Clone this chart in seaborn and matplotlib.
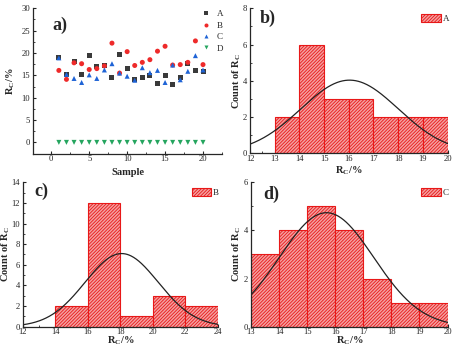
import numpy as np
import pandas as pd
import matplotlib
matplotlib.use("Agg")
import matplotlib.pyplot as plt
import seaborn as sns
from matplotlib.ticker import MultipleLocator, AutoMinorLocator
from matplotlib.patches import Patch

# --- data ---
sample = list(range(1, 21))
rc_a = [18.9, 15.2, 18.2, 15.2, 19.4, 16.9, 17.2, 14.5, 19.7, 16.6,
        14.1, 14.6, 14.9, 13.2, 14.9, 13.0, 14.5, 17.6, 16.1, 15.9]
rc_b = [16.1, 14.1, 17.8, 17.6, 16.3, 16.5, 17.1, 22.2, 15.5, 20.3,
        17.2, 17.9, 18.5, 20.4, 21.5, 17.3, 17.4, 17.9, 22.7, 17.4]
rc_c = [18.9, 15.2, 14.3, 13.4, 15.1, 14.3, 16.2, 17.6, 15.5, 14.8,
        13.9, 16.7, 15.6, 16.1, 13.4, 17.3, 14.0, 15.9, 19.4, 16.2]
rc_d = [0.0] * 20

bins_a = np.arange(13, 21, 1)
bins_b = np.arange(14, 25, 2)
bins_c = np.arange(13, 21, 1)

sns.set_style("ticks")
plt.rcParams["font.family"] = ["Liberation Serif", "DejaVu Serif"]
plt.rcParams["mathtext.fontset"] = "custom"
plt.rcParams["mathtext.rm"] = "Liberation Serif"
plt.rcParams["mathtext.bf"] = "Liberation Serif:bold"
plt.rcParams["hatch.linewidth"] = 0.6
plt.rcParams["xtick.direction"] = "in"
plt.rcParams["ytick.direction"] = "in"

fig = plt.figure(figsize=(4.53, 3.52), dpi=100)
ax_a = fig.add_axes([0.073, 0.5625, 0.417, 0.414])
ax_b = fig.add_axes([0.552, 0.5645, 0.436, 0.412])
ax_c = fig.add_axes([0.050, 0.072, 0.431, 0.410])
ax_d = fig.add_axes([0.554, 0.072, 0.434, 0.410])

tick_fs = 6.2
label_fs = 7.5
rc_label = r"R$_\mathbf{C}$/%"
count_label = r"Count of R$_\mathbf{C}$"
hatch = "//////////"
bar_face = "#f4a0a0"
bar_edge = "#e81818"


def style_axes(ax, xlab, ylab, xl_pos, yl_pos):
    sns.despine(ax=ax)
    ax.tick_params(labelsize=tick_fs, length=2.5, width=0.8, pad=1.0)
    ax.tick_params(axis="y", pad=2.0)
    ax.tick_params(which="minor", length=1.5, width=0.6)
    for s in ["left", "bottom"]:
        ax.spines[s].set_linewidth(0.9)
    ax.set_xlabel(xlab, fontsize=label_fs, fontweight="bold", va="center")
    ax.set_ylabel(ylab, fontsize=label_fs, fontweight="bold", va="center")
    ax.xaxis.set_label_coords(0.5, xl_pos)
    ax.yaxis.set_label_coords(yl_pos, 0.5)


# --- a) scatter of R_C per sample ---
df = pd.DataFrame({
    "Sample": sample * 4,
    "Rc": rc_a + rc_b + rc_c + rc_d,
    "group": ["A"] * 20 + ["B"] * 20 + ["C"] * 20 + ["D"] * 20,
})
palette = {"A": "#3a3a3a", "B": "#ee2a2a", "C": "#1e63d6", "D": "#25a55f"}
markers = {"A": "s", "B": "o", "C": "^", "D": "v"}
sns.scatterplot(data=df, x="Sample", y="Rc", hue="group", style="group",
                palette=palette, markers=markers, s=13, linewidth=0,
                ax=ax_a)
ax_a.set_xlim(-2.4, 22.5)
ax_a.set_ylim(-2.6, 30)
ax_a.xaxis.set_major_locator(MultipleLocator(5))
ax_a.yaxis.set_major_locator(MultipleLocator(5))
ax_a.xaxis.set_minor_locator(AutoMinorLocator(2))
ax_a.yaxis.set_minor_locator(AutoMinorLocator(2))
style_axes(ax_a, "Sample", rc_label, -0.125, -0.118)
ax_a.legend(loc="upper right", frameon=False, fontsize=6.5, markerscale=0.8,
            handletextpad=0.2, labelspacing=0.35, borderaxespad=0.1,
            bbox_to_anchor=(1.03, 1.02), title=None)
ax_a.text(0.10, 0.88, "a)", transform=ax_a.transAxes, fontsize=13,
          fontweight="bold", va="center")


# --- b), c), d) histograms with normal curves ---
def hist_panel(ax, values, bins, label, xlim, ylim, xstep, ystep, tag,
               tagpos, xl_pos, yl_pos):
    sns.histplot(x=values, bins=bins, stat="count", ax=ax, color="red",
                 edgecolor=bar_edge, linewidth=0.8, hatch=hatch)
    for p in ax.patches:
        p.set_facecolor(bar_face)
        p.set_edgecolor(bar_edge)
    v = np.asarray(values)
    mu, sd = v.mean(), v.std(ddof=1)
    width = bins[1] - bins[0]
    xs = np.linspace(xlim[0], xlim[1], 300)
    ys = len(v) * width / (sd * np.sqrt(2 * np.pi)) * np.exp(-0.5 * ((xs - mu) / sd) ** 2)
    sns.lineplot(x=xs, y=ys, ax=ax, color="#222222", linewidth=0.9)
    ax.set_xlim(*xlim)
    ax.set_ylim(*ylim)
    ax.xaxis.set_major_locator(MultipleLocator(xstep))
    ax.yaxis.set_major_locator(MultipleLocator(ystep))
    ax.xaxis.set_minor_locator(AutoMinorLocator(2))
    ax.yaxis.set_minor_locator(AutoMinorLocator(2))
    style_axes(ax, rc_label, count_label, xl_pos, yl_pos)
    handle = Patch(facecolor=bar_face, edgecolor=bar_edge, hatch=hatch,
                   linewidth=0.8)
    ax.legend([handle], [label], loc="upper right", frameon=False,
              fontsize=6.5, handlelength=2.2, handleheight=0.9,
              handletextpad=0.2, borderaxespad=0.1,
              bbox_to_anchor=(1.03, 0.99))
    ax.text(tagpos[0], tagpos[1], tag, transform=ax.transAxes, fontsize=13,
            fontweight="bold", va="center")


hist_panel(ax_b, rc_a, bins_a, "A", (12, 20), (0, 8), 1, 2, "b)",
           (0.05, 0.93), -0.12, -0.07)
hist_panel(ax_c, rc_b, bins_b, "B", (12, 24), (0, 14), 2, 2, "c)",
           (0.06, 0.94), -0.1, -0.085)
hist_panel(ax_d, rc_c, bins_c, "C", (13, 20), (0, 6), 1, 2, "d)",
           (0.06, 0.92), -0.1, -0.075)

fig.savefig("out.png", dpi=100)
